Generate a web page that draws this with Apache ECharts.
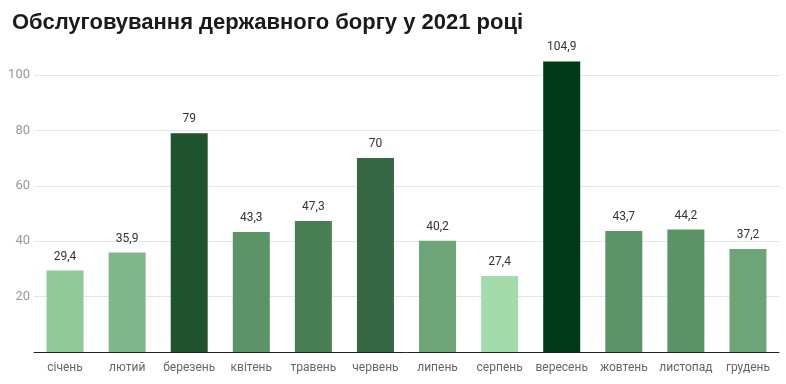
<!DOCTYPE html>
<html><head><meta charset="utf-8">
<script src="https://cdn.jsdelivr.net/npm/echarts@6/dist/echarts.min.js"></script>
<style>html,body{margin:0;padding:0;background:#fff}#c{width:786px;height:384px}</style>
</head><body><div id="c"></div>
<script>
const titleText = "Обслуговування державного боргу у 2021 році";
const months = ["січень","лютий","березень","квітень","травень","червень","липень","серпень","вересень","жовтень","листопад","грудень"];
const values = [29.4, 35.9, 79, 43.3, 47.3, 70, 40.2, 27.4, 104.9, 43.7, 44.2, 37.2];
const colors = ["#8fca98","#7fb68a","#1e532c","#5d9466","#477f52","#366943","#6da577","#a3dbab","#003b19","#5b9465","#5a9366","#6ca677"];
const yTicks = [0, 20, 40, 60, 80, 100];

const chart = echarts.init(document.getElementById('c'), null, {renderer:'canvas'});
chart.setOption({
  animation: false,
  title: {text: titleText, left: 7, top: 7, textStyle: {fontFamily: 'Liberation Sans', fontSize: 22, fontWeight: 'bold', color: '#1a1a1a'}},
  grid: {left: 34, right: 7, top: 75, bottom: 32, containLabel: false},
  xAxis: {type: 'category', data: months,
    axisLine: {lineStyle: {color: '#222', width: 1}}, axisTick: {show: false},
    axisLabel: {interval: 0, color: '#666', fontFamily: 'Roboto', fontSize: 12, margin: 10}},
  yAxis: {type: 'value', min: yTicks[0], max: yTicks[yTicks.length-1], interval: 20,
    axisLine: {show: false}, axisTick: {show: false},
    axisLabel: {color: '#999', fontFamily: 'Roboto', fontSize: 13, margin: 4, formatter: v => v === 0 ? '' : String(v)},
    splitLine: {lineStyle: {color: '#e6e6e6'}}},
  series: [{type: 'bar', clip: false, barWidth: 37,
    data: values.map((v, i) => ({value: v, itemStyle: {color: colors[i]}})),
    label: {show: true, position: 'top', distance: 8, color: '#333', fontFamily: 'Roboto', fontSize: 12,
      formatter: p => String(p.value).replace('.', ',')}}]
});
</script></body></html>
